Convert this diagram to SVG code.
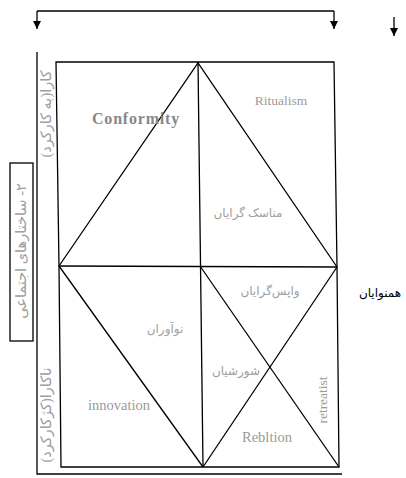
<svg xmlns="http://www.w3.org/2000/svg" width="406" height="478" viewBox="0 0 406 478">
<style>
.ln{stroke:#000;stroke-width:1.3;fill:none}
.en{font-family:"Liberation Serif",serif;font-size:13.5px;fill:#9a9a9a}
.fa{font-family:"Liberation Serif","DejaVu Sans",sans-serif;font-size:12px;fill:#a0a0a0}
.bk{font-family:"Liberation Serif","DejaVu Sans",sans-serif;font-size:12px;fill:#000}
</style>
<defs>
<marker id="ah" viewBox="0 0 10 10" refX="10" refY="5" markerWidth="8" markerHeight="8" markerUnits="userSpaceOnUse" orient="auto">
<path d="M0,0 L10,5 L0,10 z" fill="#000"/>
</marker>
</defs>
<rect width="406" height="478" fill="#fff"/>
<g id="connectors">
<path class="ln" d="M37,11 H334"/>
<line class="ln" x1="37" y1="11" x2="37" y2="29" marker-end="url(#ah)"/>
<line class="ln" x1="334" y1="11" x2="334" y2="29" marker-end="url(#ah)"/>
<line class="ln" x1="394" y1="17" x2="394" y2="36" marker-end="url(#ah)"/>
<polyline class="ln" points="37,52 37,474 342,474"/>
</g>
<g id="frame">
<path class="ln" d="M56,62 L334,62 L337,267 L339,467 L61,467 L59,266 Z"/>
<line class="ln" x1="198" y1="62" x2="203" y2="467"/>
<line class="ln" x1="59" y1="266" x2="337" y2="267"/>
<polyline class="ln" points="59,266 198,63 337,267"/>
<line class="ln" x1="59" y1="266" x2="203" y2="467"/>
<line class="ln" x1="200" y1="266" x2="339" y2="467"/>
<line class="ln" x1="337" y1="267" x2="203" y2="467"/>
</g>
<g id="side-box">
<rect class="ln" x="10" y="163" width="23" height="178"/>
<text class="fa" transform="translate(26,251) rotate(-90)" text-anchor="middle" direction="rtl" style="font-size:14.5px">۲- ساختارهای اجتماعی</text>
</g>
<g id="axis-labels">
<text class="fa" transform="translate(51,114) rotate(-90)" text-anchor="middle" direction="rtl" style="font-size:14.5px">کارا(به کارکرد)</text>
<text class="fa" transform="translate(51,415) rotate(-90)" text-anchor="middle" direction="rtl" style="font-size:14.5px">ناکارا(کژکارکرد)</text>
<text class="bk" x="380" y="297" text-anchor="middle" direction="rtl">همنوایان</text>
</g>
<g id="conformity"><text class="en" x="136" y="124" text-anchor="middle" style="font-size:16px;font-weight:bold;fill:#888;letter-spacing:0.8px">Conformity</text></g>
<g id="ritualism">
<text class="en" x="281" y="105" text-anchor="middle">Ritualism</text>
<text class="fa" x="248" y="217" text-anchor="middle" direction="rtl">مناسک گرایان</text>
</g>
<g id="retreatism">
<text class="fa" x="270" y="295" text-anchor="middle" direction="rtl">واپس‌گرایان</text>
<text class="en" transform="translate(327,400) rotate(-90)" text-anchor="middle">retreatist</text>
</g>
<g id="rebellion">
<text class="fa" x="236" y="375" text-anchor="middle" direction="rtl">شورشیان</text>
<text class="en" x="267" y="442" text-anchor="middle" style="font-size:14.5px">Rebltion</text>
</g>
<g id="innovation">
<text class="fa" x="165" y="333" text-anchor="middle" direction="rtl">نوآوران</text>
<text class="en" x="119" y="410" text-anchor="middle" style="font-size:14.5px">innovation</text>
</g>
</svg>
